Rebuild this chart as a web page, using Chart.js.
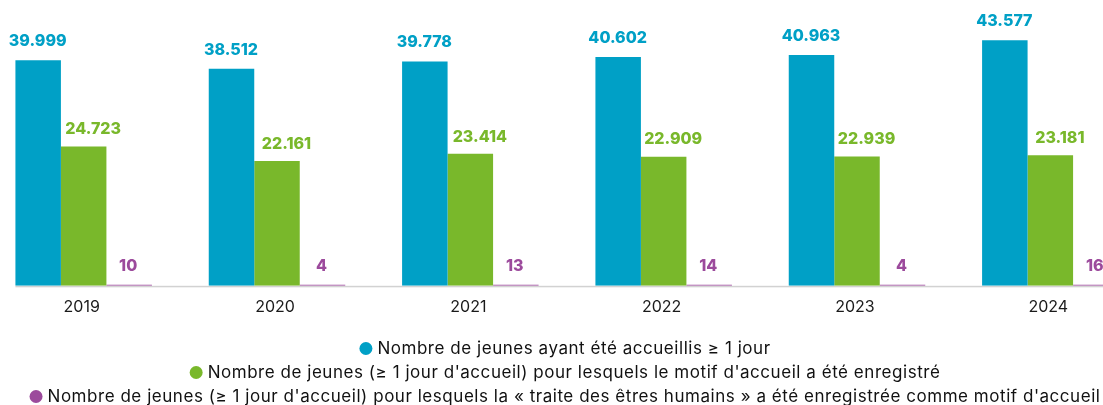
<!DOCTYPE html>
<html>
<head>
<meta charset="utf-8">
<script src="https://cdn.jsdelivr.net/npm/chart.js@4.4.1/dist/chart.umd.min.js"></script>
<style>
  html, body { margin: 0; padding: 0; background: #fff; overflow: hidden; width: 1103px; height: 405px; }
  #wrap { position: absolute; left: -13px; top: 0; width: 1160px; height: 405px; }
</style>
</head>
<body>
<div id="wrap"><canvas id="c"></canvas></div>
<script>
const years = ['2019', '2020', '2021', '2022', '2023', '2024'];
const accueillis = [39999, 38512, 39778, 40602, 40963, 43577];
const motifEnregistre = [24723, 22161, 23414, 22909, 22939, 23181];
const traiteHumains = [10, 4, 13, 14, 4, 16];
const seriesLabels = [
  "Nombre de jeunes ayant été accueillis ≥ 1 jour",
  "Nombre de jeunes (≥ 1 jour d'accueil) pour lesquels le motif d'accueil a été enregistré",
  "Nombre de jeunes (≥ 1 jour d'accueil) pour lesquels la « traite des êtres humains » a été enregistrée comme motif d'accueil"
];
const colors = ['#00a0c6', '#79b82b', '#9c4a9c'];

const fmt = v => String(v).replace(/\B(?=(\d{3})+(?!\d))/g, '.');

const labelOffsets = [ {dx: -0.5, dy: 19}, {dx: 9.5, dy: 17}, {dx: -1, dy: 19} ];

const valueLabels = {
  id: 'valueLabels',
  afterDatasetsDraw(chart) {
    const ctx = chart.ctx;
    ctx.save();
    ctx.font = '800 16px Inter';
    ctx.textAlign = 'center';
    ctx.textBaseline = 'middle';
    chart.data.datasets.forEach((ds, di) => {
      const meta = chart.getDatasetMeta(di);
      ctx.fillStyle = colors[di];
      meta.data.forEach((bar, i) => {
        const off = labelOffsets[di];
        ctx.fillText(fmt(ds.data[i]), bar.x + off.dx, Math.min(bar.y, bar.base) - off.dy);
      });
    });
    ctx.restore();
  }
};

const baseline = {
  id: 'baseline',
  beforeDatasetsDraw(chart) {
    const ctx = chart.ctx;
    const first = chart.getDatasetMeta(0).data[0];
    const x0 = first.x - first.width / 2;
    const y = chart.chartArea.bottom;
    ctx.save();
    ctx.fillStyle = '#d2d2d2';
    ctx.fillRect(x0, y, chart.width - x0, 1.5);
    ctx.restore();
  }
};

const customLegend = {
  id: 'customLegend',
  afterDraw(chart) {
    const ctx = chart.ctx;
    const cx = (chart.chartArea.left + chart.chartArea.right) / 2 - 2;
    const ys = [348.5, 372.5, 396.5];
    ctx.save();
    ctx.font = '17px Inter';
    ctx.textBaseline = 'middle';
    ctx.textAlign = 'left';
    const longest = seriesLabels[2];
    const w0 = ctx.measureText(longest).width;
    const ls = Math.max(0, (1053 - w0) / longest.length);
    ctx.letterSpacing = ls.toFixed(2) + 'px';
    seriesLabels.forEach((t, i) => {
      const tw = ctx.measureText(t).width;
      const r = 6.5, gap = 5;
      const total = 2 * r + gap + tw;
      const x0 = cx - total / 2;
      ctx.fillStyle = colors[i];
      ctx.beginPath();
      ctx.arc(x0 + r, ys[i], r, 0, Math.PI * 2);
      ctx.fill();
      ctx.fillStyle = '#111';
      ctx.fillText(t, x0 + 2 * r + gap, ys[i] + 0.5);
    });
    ctx.restore();
  }
};

new Chart(document.getElementById('c'), {
  type: 'bar',
  data: {
    labels: years,
    datasets: [
      { label: seriesLabels[0], data: accueillis, backgroundColor: colors[0] },
      { label: seriesLabels[1], data: motifEnregistre, backgroundColor: colors[1] },
      { label: seriesLabels[2], data: traiteHumains, backgroundColor: colors[2], minBarLength: 1 }
    ]
  },
  options: {
    responsive: true,
    maintainAspectRatio: false,
    animation: false,
    events: [],
    datasets: { bar: { categoryPercentage: 0.706, barPercentage: 1.0, borderWidth: 0 } },
    layout: { padding: { top: 4, bottom: 76, left: 0, right: 0 } },
    plugins: { legend: { display: false }, tooltip: { enabled: false } },
    scales: {
      x: {
        grid: { display: false, drawTicks: false },
        border: { display: false },
        ticks: { color: '#1a1a1a', font: { family: 'Inter', size: 16 }, padding: 12, labelOffset: -2 }
      },
      y: {
        display: false,
        min: 0,
        max: 50000
      }
    }
  },
  plugins: [baseline, valueLabels, customLegend]
});
</script>
</body>
</html>
